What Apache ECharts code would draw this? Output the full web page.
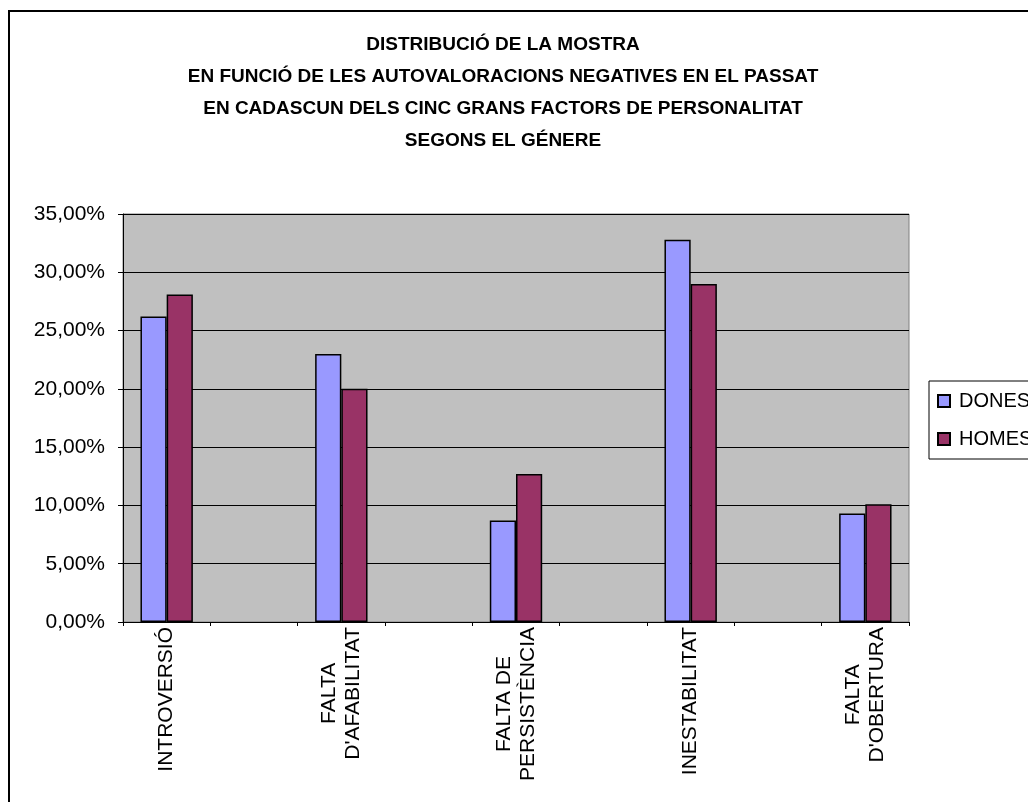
<!DOCTYPE html>
<html>
<head>
<meta charset="utf-8">
<script src="https://cdn.jsdelivr.net/npm/echarts@6/dist/echarts.min.js"></script>
<style>
html,body{margin:0;padding:0;background:#fff;}
#chart{width:1028px;height:802px;}
</style>
</head>
<body>
<div id="chart"></div>
<script>
var titleText = "DISTRIBUCIÓ DE LA MOSTRA\nEN FUNCIÓ DE LES AUTOVALORACIONS NEGATIVES EN EL PASSAT\nEN CADASCUN DELS CINC GRANS FACTORS DE PERSONALITAT\nSEGONS EL GÉNERE";
var factors = ["INTROVERSIÓ", "FALTA\nD'AFABILITAT", "FALTA DE\nPERSISTÈNCIA", "INESTABILITAT", "FALTA\nD'OBERTURA"];
var dones = [26.2, 23.0, 8.7, 32.8, 9.3];
var homes = [28.1, 20.0, 12.7, 29.0, 10.1];
var yTicks = [0, 5, 10, 15, 20, 25, 30, 35];

// Excel layout: an empty category between each factor
function spaced(arr, filler) {
  var out = [];
  arr.forEach(function (v, i) { if (i > 0) out.push(filler); out.push(v); });
  return out;
}
var categories = spaced(factors, '');
var donesData = spaced(dones, null);
var homesData = spaced(homes, null);

var FONT = '"Liberation Sans", Arial, sans-serif';
var chart = echarts.init(document.getElementById('chart'));
chart.setOption({
  animation: false,
  backgroundColor: '#fff',
  title: {
    text: titleText,
    left: 503,
    top: 29,
    padding: 0,
    textAlign: 'center',
    textStyle: { fontFamily: FONT, fontWeight: 'bold', fontSize: 19, lineHeight: 32, color: '#000' }
  },
  graphic: [{
    type: 'rect', silent: true, z: -1,
    shape: { x: 9, y: 11, width: 1200, height: 1000 },
    style: { fill: 'none', stroke: '#000', lineWidth: 2 }
  }],
  legend: {
    orient: 'vertical',
    left: 929, top: 381,
    padding: [10, 20, 10, 8],
    itemWidth: 12, itemHeight: 12, itemGap: 18,
    borderColor: '#000', borderWidth: 1,
    icon: 'rect',
    textStyle: { fontFamily: FONT, fontSize: 20, color: '#000', padding: [0, 0, 0, 4] },
    data: ['DONES', 'HOMES']
  },
  grid: {
    left: 123, right: 119, top: 214, bottom: 180,
    show: true, backgroundColor: '#C0C0C0', borderColor: '#808080', borderWidth: 1
  },
  xAxis: {
    type: 'category',
    data: categories,
    boundaryGap: true,
    axisLine: { lineStyle: { color: '#000', width: 1 } },
    axisTick: { show: true, length: 4, interval: 0, lineStyle: { color: '#000' } },
    axisLabel: {
      interval: 0, rotate: 90, margin: 5,
      fontFamily: FONT, fontSize: 21, color: '#000',
      formatter: function (v) {
        if (!v) return '';
        return v.split('\n').map(function (l) { return '{c|' + l + '}'; }).join('\n');
      },
      rich: { c: { fontFamily: FONT, fontSize: 21, lineHeight: 24, align: 'center', color: '#000' } }
    }
  },
  yAxis: {
    type: 'value',
    min: yTicks[0], max: yTicks[yTicks.length - 1], interval: 5,
    axisLine: { show: true, lineStyle: { color: '#000', width: 1 } },
    axisTick: { show: true, length: 5, lineStyle: { color: '#000' } },
    splitLine: { show: true, lineStyle: { color: '#000', width: 1 } },
    axisLabel: {
      margin: 18, fontFamily: FONT, fontSize: 21, color: '#000',
      formatter: function (v) { return v.toFixed(2).replace('.', ',') + '%'; }
    }
  },
  series: [
    {
      name: 'DONES', type: 'bar', data: donesData,
      barGap: '0%', barCategoryGap: '40%',
      itemStyle: { color: '#9999FF', borderColor: '#000', borderWidth: 1.5 }
    },
    {
      name: 'HOMES', type: 'bar', data: homesData,
      barGap: '0%', barCategoryGap: '40%',
      itemStyle: { color: '#993366', borderColor: '#000', borderWidth: 1.5 }
    }
  ]
});
</script>
</body>
</html>
